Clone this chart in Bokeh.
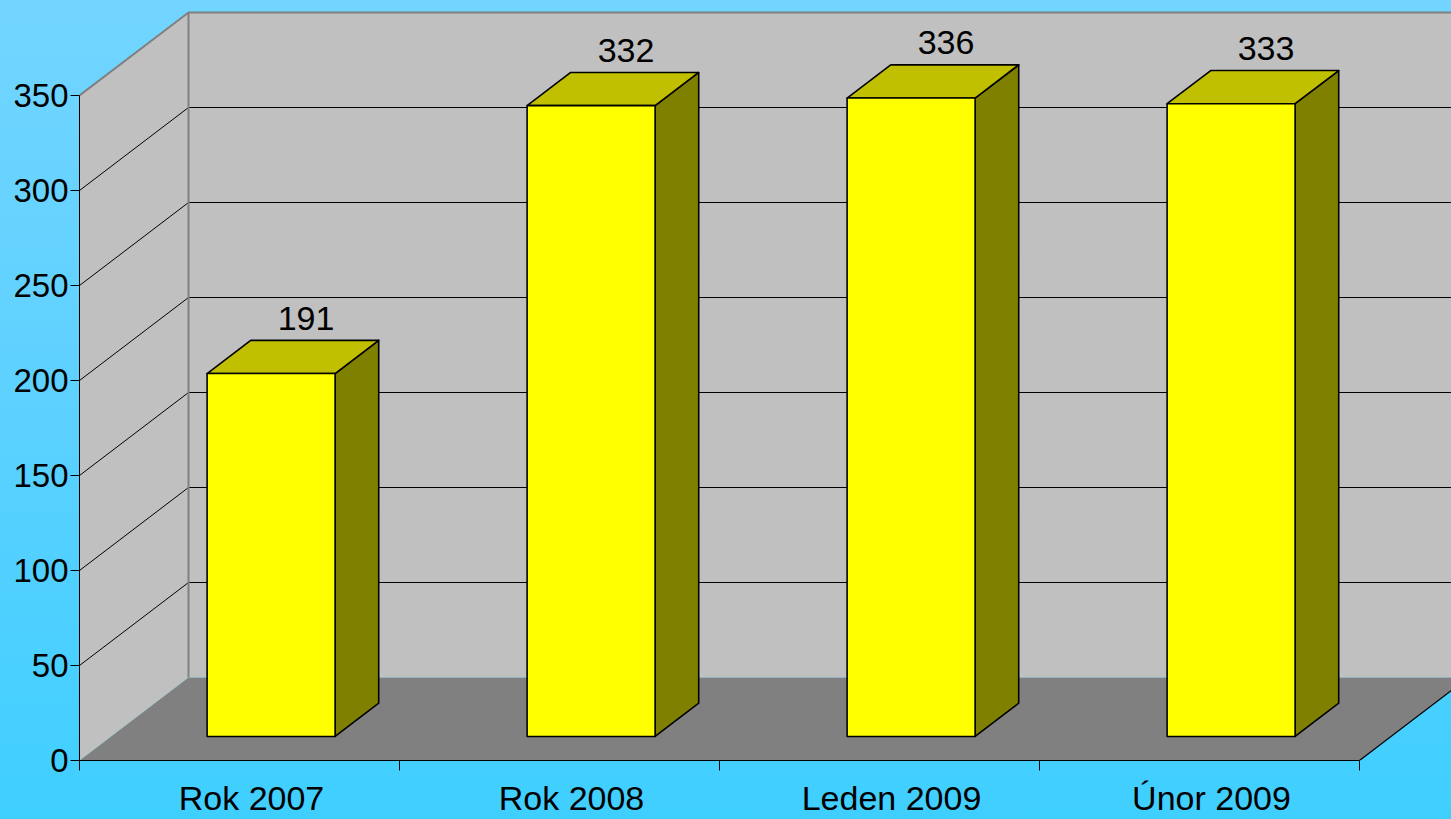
import numpy as np
from bokeh.plotting import figure
from bokeh.models import Range1d, FixedTicker, ColumnDataSource
from bokeh.core.properties import value
from bokeh.embed import file_html
from bokeh.resources import INLINE

# ---- data ----
categories = ["Rok 2007", "Rok 2008", "Leden 2009", "Únor 2009"]
counts = [191, 332, 336, 333]
y_ticks = [0, 50, 100, 150, 200, 250, 300, 350]
y_max_axis = 350

# ---- geometry / style ----
PX_X = 320.0          # px per category
PX_Y = 1.9            # px per value unit
DEPTH_X = 109 / PX_X  # depth offset in category units
DEPTH_Y = 83 / PX_Y   # depth offset in value units
BAR_W = 0.4
BAR_D0 = 0.29
BAR_DEPTH = 0.4
LABEL_SHIFT = 12 / PX_X
FONT = "Liberation Sans"

W, H = 1451, 819
BL, BB = 79, 59
XMAX = (W - BL) / PX_X
YMAX = (H - BB) / PX_Y
n = len(categories)

p = figure(width=W, height=H, x_range=Range1d(0, XMAX), y_range=Range1d(0, YMAX),
           output_backend="svg", toolbar_location=None,
           min_border_left=BL, min_border_right=0, min_border_top=0, min_border_bottom=BB)
p.outline_line_color = None
p.grid.visible = False

try:
    from bokeh.models import GlobalInlineStyleSheet
    p.stylesheets = [GlobalInlineStyleSheet(css=(
        "html{height:100%;background:linear-gradient(180deg,#72d5ff 0%,#5fd1ff 45%,#3fcfff 100%);}"
        "body{background:transparent;overflow:hidden;}"))]
    p.border_fill_color = None
    p.background_fill_color = None
except Exception:
    p.border_fill_color = "#5cd0fd"
    p.background_fill_color = "#5cd0fd"

top_v = y_max_axis
# floor
p.patch([0, n, n + DEPTH_X, DEPTH_X], [0, 0, DEPTH_Y, DEPTH_Y], fill_color="#808080", line_color=None)
# side wall
p.patch([0, 0, DEPTH_X, DEPTH_X], [0, top_v, top_v + DEPTH_Y, DEPTH_Y], fill_color="#c0c0c0", line_color=None)
# back wall
p.patch([DEPTH_X, XMAX + 1, XMAX + 1, DEPTH_X], [DEPTH_Y, DEPTH_Y, top_v + DEPTH_Y, top_v + DEPTH_Y],
        fill_color="#c0c0c0", line_color=None)

# gridlines
grid_vals = [t for t in y_ticks if 0 < t < top_v]
gx, gy = [], []
for t in grid_vals:
    gx.append([0, DEPTH_X, XMAX + 1]); gy.append([t, t + DEPTH_Y, t + DEPTH_Y])
p.multi_line(gx, gy, line_color="black", line_width=1)

# wall edges (gray)
p.line([DEPTH_X, DEPTH_X], [DEPTH_Y, top_v + DEPTH_Y], line_color="#808080", line_width=2)
p.line([0, DEPTH_X, XMAX + 1], [top_v, top_v + DEPTH_Y, top_v + DEPTH_Y], line_color="#808080", line_width=2)
# right floor edge
p.line([n, n + DEPTH_X], [0, DEPTH_Y], line_color="black", line_width=1.2)

# bars
idx = np.arange(n)
vals = np.array(counts, dtype=float)
L = idx + 0.5 - BAR_W / 2 + BAR_D0 * DEPTH_X
R = L + BAR_W
B = np.full(n, BAR_D0 * DEPTH_Y)
T = B + vals
ddx = BAR_DEPTH * DEPTH_X
ddy = BAR_DEPTH * DEPTH_Y

front_x = [[l, r, r, l] for l, r in zip(L, R)]
front_y = [[b, b, t, t] for b, t in zip(B, T)]
top_x = [[l, r, r + ddx, l + ddx] for l, r in zip(L, R)]
top_y = [[t, t, t + ddy, t + ddy] for t in T]
side_x = [[r, r + ddx, r + ddx, r] for r in R]
side_y = [[b, b + ddy, t + ddy, t] for b, t in zip(B, T)]

p.patches(side_x, side_y, fill_color="#808000", line_color="black", line_width=1.6, line_join="round")
p.patches(top_x, top_y, fill_color="#c0c000", line_color="black", line_width=1.6, line_join="round")
p.patches(front_x, front_y, fill_color="#ffff00", line_color="black", line_width=1.6, line_join="round")

# value labels
src = ColumnDataSource(dict(x=(L + R) / 2 + 0.109, y=T + 29, txt=[str(c) for c in counts]))
p.text("x", "y", text="txt", source=src, text_align="center", text_baseline="alphabetic",
       text_font=value(FONT), text_font_size="34px", text_color="black")

# y axis
ya = p.yaxis[0]
ya.ticker = FixedTicker(ticks=y_ticks)
ya.bounds = (0, y_max_axis)
ya.axis_line_color = "black"
ya.major_tick_out = 9
ya.major_tick_in = 0
ya.minor_tick_line_color = None
ya.major_label_standoff = 2
ya.major_label_text_font = FONT
ya.major_label_text_font_size = "33px"
ya.major_label_text_color = "black"

# x axis
xa = p.xaxis[0]
centers = [i + 0.5 + LABEL_SHIFT for i in range(n)]
xa.ticker = FixedTicker(ticks=centers, minor_ticks=list(range(n + 1)))
xa.bounds = (0, n)
xa.axis_line_color = "black"
xa.major_tick_out = 0
xa.major_tick_in = 0
xa.minor_tick_out = 10
xa.minor_tick_in = 0
xa.minor_tick_line_color = "black"
xa.major_label_overrides = {c: cat for c, cat in zip(centers, categories)}
xa.major_label_standoff = 8
xa.major_label_text_font = FONT
xa.major_label_text_font_size = "34px"
xa.major_label_text_color = "black"

open("out.html", "w").write(file_html(p, INLINE))
